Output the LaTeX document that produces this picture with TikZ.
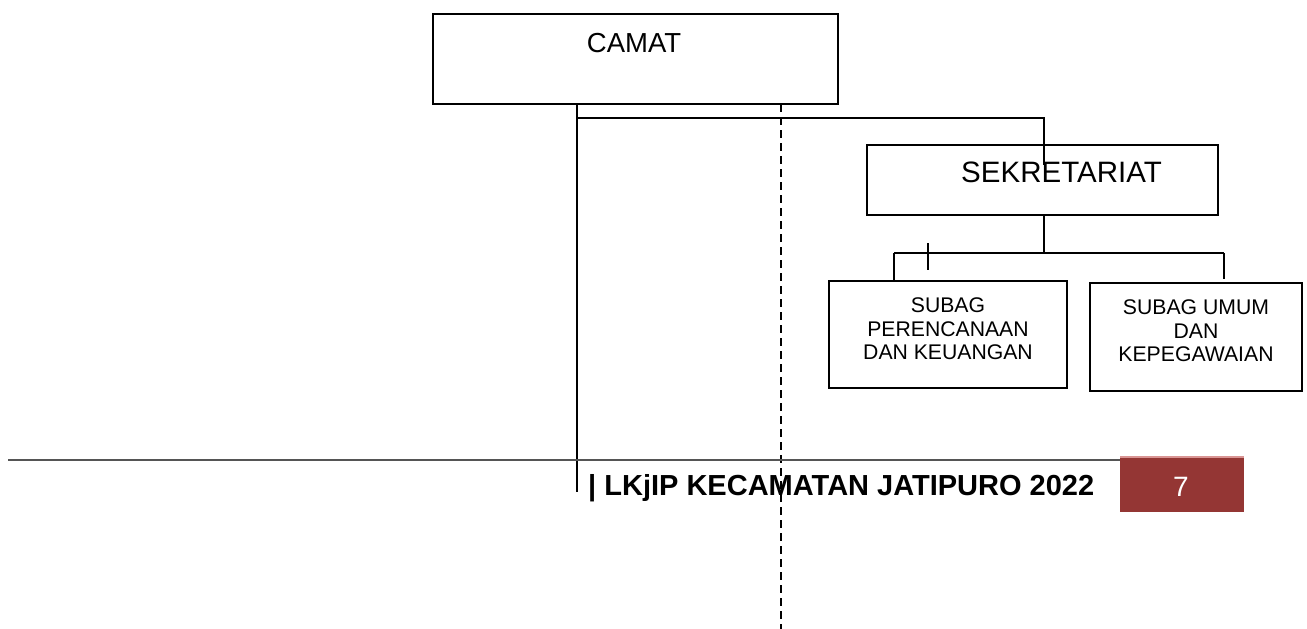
\documentclass[tikz,border=0pt]{standalone}
\usepackage{fontspec}
\setmainfont{Liberation Sans}
\definecolor{pagered}{HTML}{943634}
\definecolor{pagepink}{HTML}{D99594}
\definecolor{rulegray}{HTML}{555555}
\begin{document}
\begin{tikzpicture}[x=1pt,y=-1pt,
  orgbox/.style={draw=black, line width=1.8pt, rectangle, inner sep=0pt},
  conn/.style={draw=black, line width=1.7pt},
  thinconn/.style={draw=black, line width=1.2pt},
  dashconn/.style={draw=black, line width=1.2pt, dash pattern=on 8pt off 5pt},
  bigtxt/.style={font=\fontsize{27.5}{32}\selectfont, inner sep=0pt},
  smalltxt/.style={font=\fontsize{21.2}{23.5}\selectfont, align=center, inner sep=0pt}
]
\useasboundingbox (0,0) rectangle (1307,629);
% boxes
\node[orgbox, minimum width=405pt, minimum height=90pt] (camat) at (635.5,59) {};
\node[bigtxt] (camattxt) at (634,43) {CAMAT};
\node[orgbox, minimum width=351pt, minimum height=70pt] (sekr) at (1042.5,180) {};
\node[bigtxt, font=\fontsize{29.5}{32}\selectfont] (sekrtxt) at (1061.5,172) {SEKRETARIAT};
\node[orgbox, minimum width=238pt, minimum height=107pt] (sub1) at (948,334.5) {};
\node[smalltxt] (sub1txt) at (948,329) {SUBAG\\PERENCANAAN\\DAN KEUANGAN};
\node[orgbox, minimum width=212pt, minimum height=108pt] (sub2) at (1196,337) {};
\node[smalltxt] (sub2txt) at (1196,331) {SUBAG UMUM\\DAN\\KEPEGAWAIAN};
% coordinates
\coordinate (cv) at (577,104);
\coordinate (cvend) at (577,492);
\coordinate (dv) at (781,104);
\coordinate (dvend) at (781,629);
\coordinate (hl) at (577,118);
\coordinate (hr) at (1044,118);
\coordinate (sin) at (1044,165);
\coordinate (sbus) at (1044,253);
\coordinate (bl) at (894,253);
\coordinate (br) at (1224,253);
\coordinate (brend) at (1224,279);
\coordinate (tk1) at (928,243);
\coordinate (tk2) at (928,270);
% connectors
\draw[thinconn] (cv) -- (cvend);
\draw[dashconn] (dv) -- (dvend);
\draw[conn] (hl) -- (hr) -- (sin);
\draw[conn] (sekr.south -| sbus) -- (sbus);
\draw[conn] (bl) -- (br);
\draw[conn] (bl) -- (sub1.north -| bl);
\draw[conn] (br) -- (brend);
\draw[conn] (tk1) -- (tk2);
% footer
\coordinate (fl) at (8,459.5);
\node[fill=pagered, minimum width=124pt, minimum height=54pt, inner sep=0pt, anchor=north west] (pg) at (1120,458) {};
\fill[pagepink] (pg.north west) rectangle ([yshift=2pt]pg.north east);
\draw[rulegray, line width=2pt] (fl) -- (pg.west |- fl);
\node[text=white, font=\fontsize{28}{32}\selectfont, inner sep=0pt] (pgnum) at (1181,487) {7};
\node[font=\bfseries\fontsize{29}{32}\selectfont, inner sep=0pt, anchor=base west] (foot) at (588,495) {| LKjIP KECAMATAN JATIPURO 2022};
\end{tikzpicture}
\end{document}
